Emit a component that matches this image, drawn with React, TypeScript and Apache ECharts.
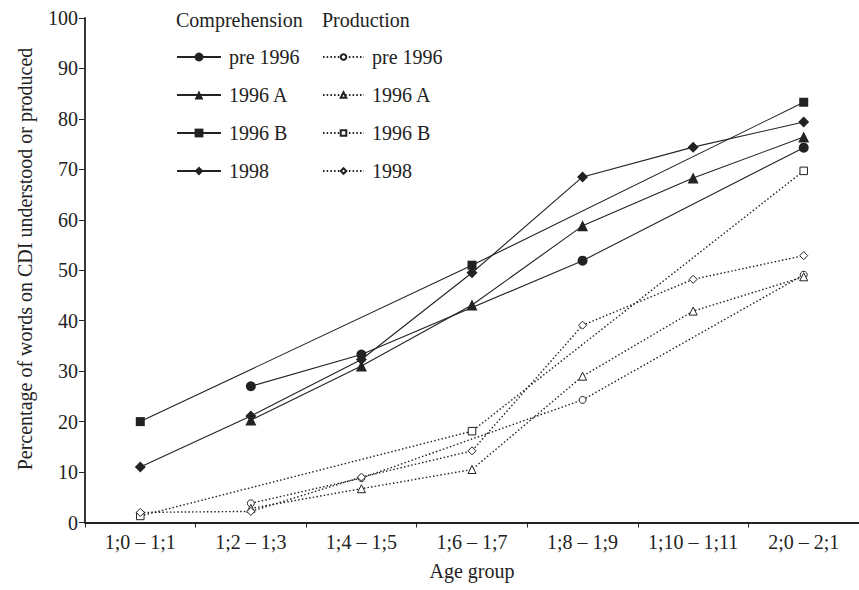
import React, { useEffect, useRef } from "react";
import * as echarts from "echarts";

const categories = ["1;0 – 1;1", "1;2 – 1;3", "1;4 – 1;5", "1;6 – 1;7", "1;8 – 1;9", "1;10 – 1;11", "2;0 – 2;1"];
const yTicks = [0, 100, 10];

const compPre1996 = [null, 27, 33.3, null, 51.9, null, 74.3];
const comp1996A = [null, 20.3, 31, 43.1, 58.8, 68.3, 76.4];
const comp1996B = [20, null, null, 51, null, null, 83.3];
const comp1998 = [11, 21.1, 32.3, 49.5, 68.5, 74.4, 79.4];

const prodPre1996 = [null, 3.8, 8.8, null, 24.3, null, 49.1];
const prod1996A = [null, 2.8, 6.7, 10.5, 29, 41.9, 48.7];
const prod1996B = [1.3, null, null, 18.1, null, null, 69.7];
const prod1998 = [2, 2.2, 9, 14.2, 39.1, 48.2, 52.9];

const groupNames = ["pre 1996", "1996 A", "1996 B", "1998"];
const FONT = "'Liberation Serif', 'Times New Roman', 'DejaVu Serif', serif";
const INK = "#222";

export default function App() {
  const ref = useRef<HTMLDivElement>(null);
  useEffect(() => {
    if (!ref.current) return;
    const chart = echarts.init(ref.current, null, { renderer: "svg" });
    const symbols = ["circle", "triangle", "rect", "diamond"];
    const compSizes = [10, 11, 9, 11];
    const prodSizes = [7, 8, 7.5, 8];
    const compData = [compPre1996, comp1996A, comp1996B, comp1998];
    const prodData = [prodPre1996, prod1996A, prod1996B, prod1998];

    const series: any[] = [];
    groupNames.forEach((g, i) => {
      series.push({
        type: "line",
        name: "C " + g,
        data: compData[i],
        connectNulls: true,
        symbol: symbols[i],
        symbolSize: compSizes[i],
        lineStyle: { color: INK, width: 1.1, type: "solid" },
        itemStyle: { color: INK, borderColor: INK, borderWidth: 0 },
        z: 3,
      });
    });
    groupNames.forEach((g, i) => {
      series.push({
        type: "line",
        name: "P " + g,
        data: prodData[i],
        connectNulls: true,
        symbol: symbols[i],
        symbolSize: prodSizes[i],
        showAllSymbol: true,
        lineStyle: { color: INK, width: 1.4, type: [1.5, 2.2] },
        itemStyle: { color: "#fff", borderColor: INK, borderWidth: 1 },
        z: 2,
      });
    });

    const legendText = {
      fontFamily: FONT,
      fontSize: 20,
      color: INK,
      lineHeight: 20,
      padding: [0, 0, 0, 3],
    };

    chart.setOption({
      animation: false,
      textStyle: { fontFamily: FONT },
      grid: { left: 85, right: -3, top: 18, bottom: 67.5 },
      legend: [
        {
          data: groupNames.map((g) => "C " + g),
          orient: "vertical",
          left: 176,
          top: 47,
          padding: 0,
          itemWidth: 44,
          itemHeight: 11,
          itemGap: 18,
          formatter: (n: string) => n.slice(2),
          textStyle: legendText,
          selectedMode: false,
        },
        {
          data: groupNames.map((g) => "P " + g),
          orient: "vertical",
          left: 322,
          top: 47,
          padding: 0,
          itemWidth: 41,
          itemHeight: 7,
          itemGap: 18,
          formatter: (n: string) => n.slice(2),
          textStyle: legendText,
          selectedMode: false,
        },
      ],
      graphic: [
        {
          type: "text",
          left: 176,
          top: 10,
          style: { text: "Comprehension", font: "20px " + FONT, fill: INK },
        },
        {
          type: "text",
          left: 322,
          top: 10,
          style: { text: "Production", font: "20px " + FONT, fill: INK },
        },
        {
          type: "text",
          x: 25,
          y: 259,
          rotation: Math.PI / 2,
          style: {
            text: "Percentage of words on CDI understood or produced",
            font: "20px " + FONT,
            fill: INK,
            align: "center",
            verticalAlign: "middle",
          },
        },
      ],
      xAxis: {
        type: "category",
        data: categories,
        boundaryGap: true,
        name: "Age group",
        nameLocation: "middle",
        nameGap: 38,
        nameTextStyle: { fontFamily: FONT, fontSize: 20, color: INK },
        axisLine: { lineStyle: { color: INK, width: 1.8 } },
        axisTick: { show: true, length: 5, lineStyle: { color: INK, width: 1 } },
        axisLabel: { interval: 0, margin: 9, fontFamily: FONT, fontSize: 20, color: INK },
        splitLine: { show: false },
      },
      yAxis: {
        type: "value",
        min: yTicks[0],
        max: yTicks[1],
        interval: yTicks[2],
        axisLine: { show: true, lineStyle: { color: INK, width: 1.8 } },
        axisTick: { show: true, length: 6, lineStyle: { color: INK, width: 1 } },
        axisLabel: { margin: 7, fontFamily: FONT, fontSize: 20, color: INK },
        splitLine: { show: false },
      },
      series,
    });
    return () => chart.dispose();
  }, []);
  return (
    <div
      ref={ref}
      style={{ position: "fixed", left: 0, top: 0, width: 859, height: 590, background: "#fff" }}
    />
  );
}
